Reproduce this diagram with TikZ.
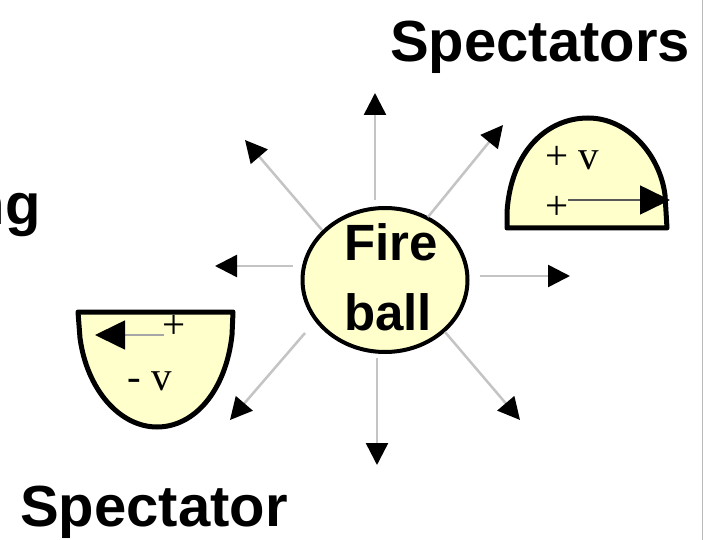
\documentclass[tikz,border=0pt]{standalone}
\usepackage{fontspec}
\setmainfont{Liberation Serif}
\newfontfamily\hv{Liberation Sans}
\usetikzlibrary{arrows.meta,shapes.geometric}
\definecolor{fbfill}{HTML}{FFFFCC}
\definecolor{raygray}{HTML}{C4C4C4}
\begin{document}
\begin{tikzpicture}[x=1pt,y=-1pt,
  bigtitle/.style={font=\hv\bfseries\fontsize{58}{60}\selectfont, inner sep=0pt},
  firetext/.style={font=\hv\bfseries\fontsize{51}{52}\selectfont, inner sep=0pt, anchor=base},
  fireball/.style={ellipse, draw=black, fill=fbfill, line width=4pt, minimum width=165pt, minimum height=144pt, inner sep=0pt},
  ray/.style={draw=raygray, line width=2.5pt, -{Triangle[length=22pt,width=22pt,color=black]}},
  dome/.style={draw=black, fill=fbfill, line width=5pt, line join=round},
  sign/.style={font=\fontsize{41}{42}\selectfont, inner sep=0pt, anchor=base west},
  vel/.style={line width=1.6pt, -{Triangle[length=30pt,width=29pt,color=black]}}]
\useasboundingbox (0,0) rectangle (704,540);
\clip (0,0) rectangle (704,540);
\fill[white] (0,0) rectangle (704,540);
\draw[gray!55, line width=1.5pt] (702.5,0) -- (702.5,540);

% titles
\node[bigtitle, anchor=base west] (spec1) at (390,62) {Spectators};
\node[bigtitle, anchor=base west] (spec2) at (20,526) {Spectator};
\node[bigtitle, anchor=base east] (cut) at (41,225) {ng};

% fireball
\node[fireball] (fire) at (385,280) {};
\node[firetext] (fire1) at (391,260) {Fire};
\node[firetext] (fire2) at (388,330) {ball};

% rays
\coordinate (s1) at (375,200); \coordinate (t1) at (375,93);
\coordinate (s2) at (322,230); \coordinate (t2) at (245,140);
\coordinate (s3) at (428,217); \coordinate (t3) at (503,125);
\coordinate (s4) at (293,266); \coordinate (t4) at (215,266);
\coordinate (s5) at (480,276); \coordinate (t5) at (570,276);
\coordinate (s6) at (445,332); \coordinate (t6) at (520,420);
\coordinate (s7) at (377,358); \coordinate (t7) at (377,465);
\coordinate (s8) at (305,333); \coordinate (t8) at (230,420);
\foreach \i in {1,...,8} {\draw[ray] (s\i) -- (t\i);}

% upper right spectator dome
\draw[dome] (507,228) -- (507,212) .. controls (511,150) and (548,118) .. (588,118)
  .. controls (628,118) and (660,155) .. (665,195) -- (667,228) -- cycle;
\node[sign] (pv) at (545,170) {+ v};
\node[sign] (p2) at (545,220) {+};
\coordinate (a1s) at (568,200); \coordinate (a1t) at (670,200);
\draw[vel, draw=black!65] (a1s) -- (a1t);

% lower left spectator bowl
\draw[dome] (78,312) -- (233,312) -- (232,335) .. controls (226,390) and (195,427) .. (157,427)
  .. controls (120,427) and (87,390) .. (80,338) -- cycle;
\node[sign] (p3) at (162,338) {+};
\node[sign] (mv) at (127,390) {- v};
\coordinate (a2s) at (164,335); \coordinate (a2t) at (95,335);
\draw[vel, draw=black!35] (a2s) -- (a2t);
\end{tikzpicture}
\end{document}
